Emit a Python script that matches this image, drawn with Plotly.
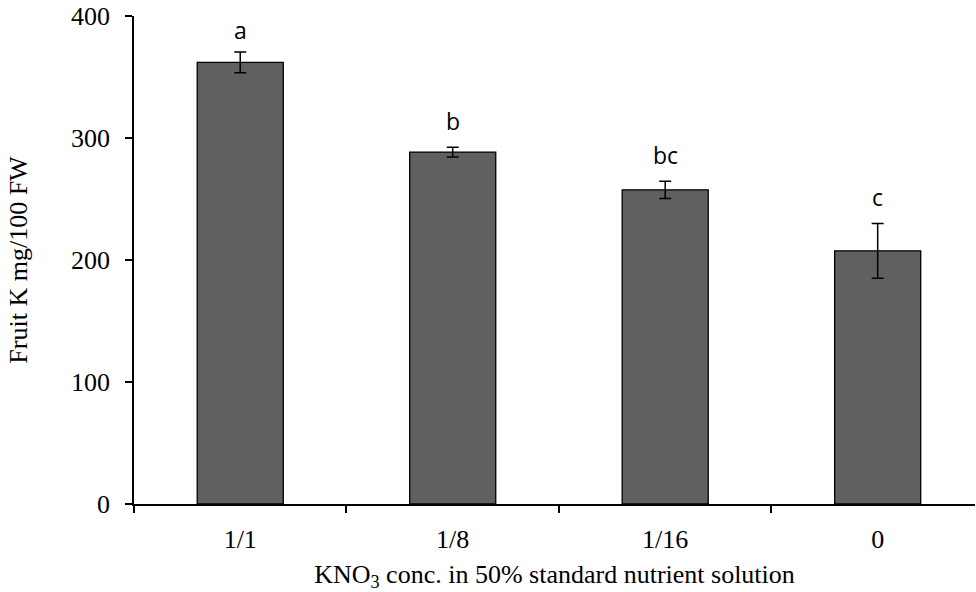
import plotly.graph_objects as go

categories = ["1/1", "1/8", "1/16", "0"]
values = [362, 288.5, 257.5, 207.5]
errors = [8.5, 4, 7, 22.5]
letters = ["a", "b", "bc", "c"]
y_ticks = [0, 100, 200, 300, 400]

positions = list(range(len(categories)))

fig = go.Figure()
fig.add_trace(go.Bar(
    x=positions, y=values, width=0.405,
    marker=dict(color="#606060", line=dict(color="#000000", width=1.3)),
    error_y=dict(type="data", array=errors, visible=True, color="#000000",
                 thickness=1.5, width=6),
    showlegend=False,
))

for i, (v, e, t) in enumerate(zip(values, errors, letters)):
    fig.add_annotation(x=i, y=v + e, text=t, showarrow=False,
                       yanchor="bottom", yshift=8 if i else 4,
                       font=dict(family="Open Sans, DejaVu Sans", size=23, color="#000000"))

fig.update_layout(
    width=976, height=592,
    margin=dict(l=134, r=1, t=16, b=88),
    plot_bgcolor="white", paper_bgcolor="white",
    font=dict(family="Liberation Serif, Times New Roman, serif", size=26, color="#000000"),
    xaxis=dict(
        range=[-0.5, 3.458], automargin=False,
        tickvals=positions, ticktext=categories,
        showline=True, linecolor="#000000", linewidth=1.5,
        ticks="", showgrid=False, zeroline=False,
        tickfont=dict(size=26), ticklabelstandoff=11,
        minor=dict(tickvals=[-0.5, 0.5, 1.5, 2.5, 3.5], ticks="outside", ticklen=7,
                   tickwidth=1.5, tickcolor="#000000", showgrid=False),
        title=dict(text="KNO<sub>3</sub> conc. in 50% standard nutrient solution",
                   font=dict(size=26), standoff=12),
    ),
    yaxis=dict(
        range=[0, 400], tickvals=y_ticks, automargin=False,
        showline=True, linecolor="#000000", linewidth=1.5,
        ticks="outside", ticklen=7, tickwidth=1.5, tickcolor="#000000",
        showgrid=False, zeroline=False, ticklabeloverflow="allow",
        tickfont=dict(size=26), ticklabelstandoff=10,
        title=dict(text="Fruit K mg/100 FW", font=dict(size=26), standoff=36),
    ),
)

fig.write_html("out.html", config={"displayModeBar": False},
               post_script="document.body.style.margin='0';document.body.style.overflow='hidden';")
